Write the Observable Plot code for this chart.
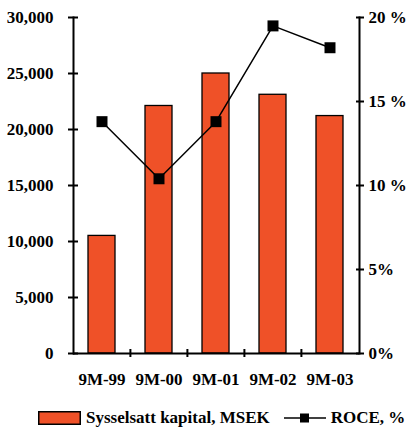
<!DOCTYPE html>
<html>
<head>
<meta charset="utf-8">
<script src="https://cdn.jsdelivr.net/npm/d3@7"></script>
<script src="https://cdn.jsdelivr.net/npm/@observablehq/plot@0.6"></script>
<style>
  html, body { margin: 0; padding: 0; background: #fff; }
  body { width: 409px; height: 434px; overflow: hidden; font-family: "Liberation Serif", "Times New Roman", serif; font-weight: bold; }
  #legend { height: 39px; display: flex; align-items: center; white-space: nowrap; overflow: hidden; font-size: 17px; color: #000; padding-left: 38px; box-sizing: border-box; padding-top: 6px; }
  #legend .item { display: flex; align-items: center; }
  #legend svg { display: block; }
</style>
</head>
<body>
<div id="chart"></div>
<div id="legend"></div>
<script>
// Periods (nine-month figures) and the two series
const periods = ["9M-99", "9M-00", "9M-01", "9M-02", "9M-03"];
const capital = [10500, 22100, 25000, 23100, 21200];   // Sysselsatt kapital, MSEK
const roce = [13.8, 10.4, 13.8, 19.5, 18.2];           // ROCE, %

// Axis ticks
const capitalTicks = [0, 5000, 10000, 15000, 20000, 25000, 30000];
const roceTicks = [0, 5, 10, 15, 20];
const roceTickLabels = ["0%", "5%", "10 %", "15 %", "20 %"];

const seriesNames = ["Sysselsatt kapital, MSEK", "ROCE, %"];
const barColor = "#EF5128";

// Layout
const width = 409, height = 395;
const marginLeft = 73, marginRight = 50, marginTop = 17, marginBottom = 42;
const capitalMax = 30000, roceMax = 20;
const k = capitalMax / roceMax;                    // ROCE drawn on the capital scale
const step = (width - marginLeft - marginRight) / periods.length;

const rows = periods.map((period, i) => ({period, capital: capital[i], roce: roce[i] * k}));

const chart = Plot.plot({
  width, height, marginLeft, marginRight, marginTop, marginBottom,
  style: {fontFamily: "Liberation Serif, serif", fontSize: "17px", fontWeight: "bold", color: "#000", background: "#fff"},
  x: {domain: periods, paddingInner: 0.52, paddingOuter: 0.26, axis: null},
  y: {domain: [0, capitalMax], axis: null},
  marks: [
    Plot.barY(rows, {x: "period", y: "capital", fill: barColor, stroke: "#000", strokeWidth: 1.3}),
    // axis lines
    Plot.frame({anchor: "left", stroke: "#000", strokeWidth: 2}),
    Plot.frame({anchor: "right", stroke: "#000", strokeWidth: 2}),
    Plot.ruleY([0], {stroke: "#000", strokeWidth: 2}),
    // left axis: crossing ticks and labels
    Plot.axisY(capitalTicks, {anchor: "left", tickSize: 10, dx: 5, fill: "none", strokeWidth: 2, label: null}),
    Plot.axisY(capitalTicks, {anchor: "left", tickSize: 0, tickPadding: 20, tickFormat: d3.format(","), label: null}),
    // right axis (ROCE)
    Plot.axisY(roceTicks.map(v => v * k), {anchor: "right", tickSize: 8, dx: -4, fill: "none", strokeWidth: 2, label: null}),
    Plot.axisY(roceTicks.map(v => v * k), {anchor: "right", tickSize: 0, tickPadding: 9, tickFormat: d => roceTickLabels[roceTicks.indexOf(d / k)], label: null}),
    // bottom axis: short crossing ticks between periods, labels under each period
    Plot.ruleX(periods.slice(1), {x: d => d, y1: 0, y2: 0, dx: -step / 2, insetTop: -4, insetBottom: -4, stroke: "#000", strokeWidth: 2}),
    Plot.axisX({anchor: "bottom", tickSize: 0, tickPadding: 19, label: null}),
    // ROCE line with square markers
    Plot.line(rows, {x: "period", y: "roce", stroke: "#000", strokeWidth: 1.5}),
    Plot.dot(rows, {x: "period", y: "roce", symbol: "square", r: 6.2, fill: "#000", stroke: "none"})
  ]
});
document.getElementById("chart").appendChild(chart);

// Legend
const legend = document.getElementById("legend");
legend.innerHTML = `
  <span class="item">
    <svg width="43" height="14"><rect x="0.75" y="0.75" width="41.5" height="12.5" fill="${barColor}" stroke="#000" stroke-width="1.5"/></svg>
    <span style="margin-left:5px">${seriesNames[0]}</span>
  </span>
  <span class="item" style="margin-left:14px">
    <svg width="42" height="14"><line x1="0" x2="42" y1="7" y2="7" stroke="#000" stroke-width="1.5"/><rect x="16" y="2.5" width="9" height="9" fill="#000"/></svg>
    <span style="margin-left:5px">${seriesNames[1]}</span>
  </span>`;
</script>
</body>
</html>
